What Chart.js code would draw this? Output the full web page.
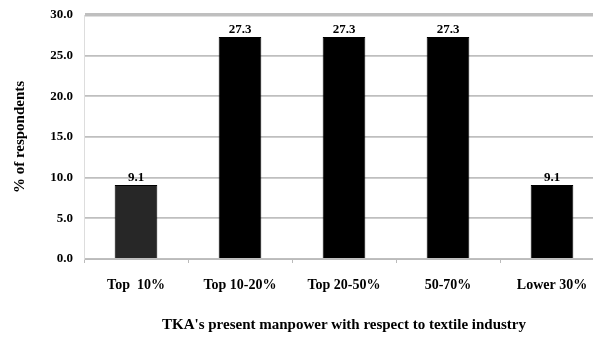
<!DOCTYPE html>
<html>
<head>
<meta charset="utf-8">
<script src="https://cdn.jsdelivr.net/npm/chart.js@4"></script>
<style>
  html, body { margin: 0; padding: 0; background: #fff; overflow: hidden; }
  #wrap { width: 612px; height: 339px; }
</style>
</head>
<body>
<div id="wrap"><canvas id="chart" width="612" height="339"></canvas></div>
<script>
const categories = ['Top  10%', 'Top 10-20%', 'Top 20-50%', '50-70%', 'Lower 30%'];
const respondents = [9.1, 27.3, 27.3, 27.3, 9.1];
const barColors = ['#272727', '#000000', '#000000', '#000000', '#000000'];
const yTicks = [0, 5, 10, 15, 20, 25, 30];

const FONT = '"Liberation Serif", "Times New Roman", serif';

// value labels over each bar
const barLabels = {
  id: 'barLabels',
  afterDatasetsDraw(chart) {
    const ctx = chart.ctx;
    const meta = chart.getDatasetMeta(0);
    ctx.save();
    ctx.font = 'bold 13px ' + FONT;
    ctx.fillStyle = '#000';
    ctx.textAlign = 'center';
    ctx.textBaseline = 'bottom';
    meta.data.forEach((bar, i) => {
      ctx.fillText(respondents[i].toFixed(1), bar.x, bar.y - 1);
    });
    ctx.restore();
  }
};

new Chart(document.getElementById('chart'), {
  type: 'bar',
  data: {
    labels: categories,
    datasets: [{
      data: respondents,
      backgroundColor: barColors,
      borderColor: '#000',
      borderWidth: 1,
      categoryPercentage: 1,
      barPercentage: 0.41
    }]
  },
  options: {
    responsive: false,
    animation: false,
    layout: { padding: { top: 15, right: 8, left: 0, bottom: 0 } },
    plugins: { legend: { display: false }, tooltip: { enabled: false } },
    scales: {
      x: {
        grid: { drawOnChartArea: false, drawTicks: true, tickLength: 4, color: '#bbb', offset: true },
        border: { color: '#bbb' },
        ticks: { color: '#000', font: { family: FONT, size: 14, weight: 'bold' }, padding: 14, maxRotation: 0 },
        title: {
          display: true,
          text: "TKA's present manpower with respect to textile industry",
          color: '#000',
          font: { family: FONT, size: 15, weight: 'bold' },
          padding: { top: 10, bottom: 5 }
        },
        afterFit(scale) { scale.height = 80; }
      },
      y: {
        min: 0,
        max: 30,
        afterBuildTicks(scale) { scale.ticks = yTicks.map(v => ({ value: v })); },
        grid: {
          color: '#bfbfbf',
          lineWidth: ctx => (ctx.tick && ctx.tick.value === 30 ? 3.5 : 1.8),
          drawTicks: false
        },
        border: { color: '#ddd' },
        ticks: {
          color: '#000',
          font: { family: FONT, size: 13, weight: 'bold' },
          padding: 11,
          callback: v => Number(v).toFixed(1)
        },
        title: {
          display: true,
          text: '% of respondents',
          color: '#000',
          font: { family: FONT, size: 15, weight: 'bold' },
          padding: { top: 11, bottom: 2 }
        },
        afterFit(scale) {
          scale.width = 84;
          // keep tick padding from pushing the plot area down
          scale.paddingTop = 8;
          scale.paddingBottom = 8;
        }
      }
    }
  },
  plugins: [barLabels]
});
</script>
</body>
</html>
